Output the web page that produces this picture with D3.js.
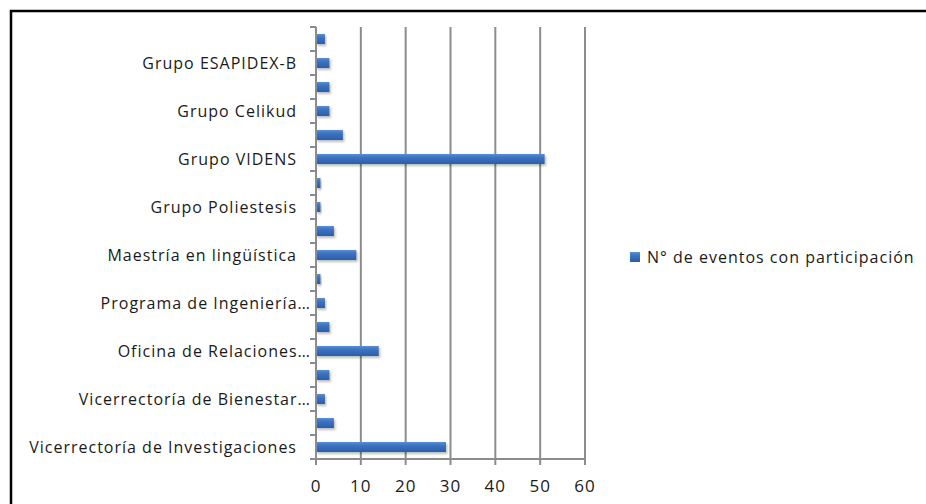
<!DOCTYPE html>
<html>
<head>
<meta charset="utf-8">
<script src="https://cdn.jsdelivr.net/npm/d3@7"></script>
<style>
  html, body { margin: 0; padding: 0; background: #fff; }
  svg { display: block; }
</style>
</head>
<body>
<svg id="chart" width="926" height="504"></svg>
<script>
// Categories from bottom to top; only every other one carries a visible label.
const categoryLabels = [
  "Vicerrectoría de Investigaciones", "",
  "Vicerrectoría de Bienestar…", "",
  "Oficina de Relaciones…", "",
  "Programa de Ingeniería…", "",
  "Maestría en lingüística", "",
  "Grupo Poliestesis", "",
  "Grupo VIDENS", "",
  "Grupo Celikud", "",
  "Grupo ESAPIDEX-B", ""
];
const eventCounts = [29, 4, 2, 3, 14, 3, 2, 1, 9, 4, 1, 1, 51, 6, 3, 3, 3, 2];
const xTicks = [0, 10, 20, 30, 40, 50, 60];
const seriesName = "N° de eventos con participación";

const svg = d3.select("#chart");
const font = "'Open Sans', sans-serif";
const textColor = "#1a1a1a";

// Outer frame
svg.append("path")
  .attr("d", "M11,504 V11 H926")
  .attr("fill", "none")
  .attr("stroke", "#000")
  .attr("stroke-width", 2.5);

const plot = { left: 316, right: 585, top: 27, bottom: 459 };

const x = d3.scaleLinear().domain([0, 60]).range([plot.left, plot.right]);
const idx = d3.range(eventCounts.length);
const y = d3.scaleBand().domain(idx).range([plot.bottom, plot.top]).paddingInner(0.58).paddingOuter(0.29);

// Bar fill gradient and soft shadow
const defs = svg.append("defs");
const grad = defs.append("linearGradient").attr("id", "barGrad")
  .attr("x1", 0).attr("y1", 0).attr("x2", 0).attr("y2", 1);
grad.append("stop").attr("offset", "0%").attr("stop-color", "#5a8fd6");
grad.append("stop").attr("offset", "35%").attr("stop-color", "#3c73c2");
grad.append("stop").attr("offset", "100%").attr("stop-color", "#2c5ea6");
const shadow = defs.append("filter").attr("id", "barShadow")
  .attr("x", "-10%").attr("y", "-30%").attr("width", "130%").attr("height", "190%");
shadow.append("feDropShadow").attr("dx", 1.5).attr("dy", 2).attr("stdDeviation", 1.2)
  .attr("flood-color", "#000").attr("flood-opacity", 0.25);

// Vertical gridlines
svg.append("g").selectAll("line")
  .data(xTicks.filter(d => d > 0))
  .join("line")
  .attr("x1", d => x(d)).attr("x2", d => x(d))
  .attr("y1", plot.top).attr("y2", plot.bottom)
  .attr("stroke", "#8c8c8c").attr("stroke-width", 2);

// Bars
svg.append("g").selectAll("rect")
  .data(idx)
  .join("rect")
  .attr("x", x(0))
  .attr("y", i => y(i))
  .attr("width", i => x(eventCounts[i]) - x(0))
  .attr("height", y.bandwidth())
  .attr("fill", "url(#barGrad)")
  .attr("filter", "url(#barShadow)");

// Category axis with ticks at band boundaries
const axisColor = "#8c8c8c";
const yAxis = svg.append("g");
yAxis.append("line")
  .attr("x1", plot.left).attr("x2", plot.left)
  .attr("y1", plot.top).attr("y2", plot.bottom + 6)
  .attr("stroke", axisColor).attr("stroke-width", 2);
const tickY = k => plot.bottom - k * (plot.bottom - plot.top) / eventCounts.length;
yAxis.selectAll("line.tick")
  .data(d3.range(eventCounts.length + 1))
  .join("line")
  .attr("class", "tick")
  .attr("x1", plot.left - 6).attr("x2", plot.left)
  .attr("y1", tickY).attr("y2", tickY)
  .attr("stroke", axisColor).attr("stroke-width", 2);
// Shortened labels (ending in an ellipsis) run right up to the axis.
yAxis.selectAll("text")
  .data(idx.filter(i => categoryLabels[i] !== ""))
  .join("text")
  .attr("x", i => categoryLabels[i].endsWith("…") ? plot.left - 5 : plot.left - 19)
  .attr("y", i => y(i) + y.bandwidth() / 2)
  .attr("dy", "0.35em")
  .attr("text-anchor", "end")
  .attr("font-family", font)
  .attr("font-size", 16)
  .attr("letter-spacing", 1)
  .attr("fill", textColor)
  .text(i => categoryLabels[i]);

// Value axis
const xAxis = svg.append("g");
xAxis.append("line")
  .attr("x1", plot.left).attr("x2", plot.right)
  .attr("y1", plot.bottom).attr("y2", plot.bottom)
  .attr("stroke", axisColor).attr("stroke-width", 2);
xAxis.selectAll("line.tick")
  .data(xTicks)
  .join("line")
  .attr("class", "tick")
  .attr("x1", d => x(d)).attr("x2", d => x(d))
  .attr("y1", plot.bottom).attr("y2", plot.bottom + 6)
  .attr("stroke", axisColor).attr("stroke-width", 2);
xAxis.selectAll("text")
  .data(xTicks)
  .join("text")
  .attr("x", d => x(d))
  .attr("y", 486)
  .attr("dy", "0.35em")
  .attr("text-anchor", "middle")
  .attr("font-family", font)
  .attr("font-size", 17)
  .attr("letter-spacing", 1)
  .attr("fill", textColor)
  .text(d => d);

// Legend
const legend = svg.append("g").attr("transform", "translate(630,252)");
legend.append("rect")
  .attr("width", 10).attr("height", 10)
  .attr("fill", "url(#barGrad)");
legend.append("text")
  .attr("x", 17).attr("y", 5)
  .attr("dy", "0.35em")
  .attr("font-family", font)
  .attr("font-size", 16)
  .attr("letter-spacing", 1)
  .attr("fill", textColor)
  .text(seriesName);
</script>
</body>
</html>
